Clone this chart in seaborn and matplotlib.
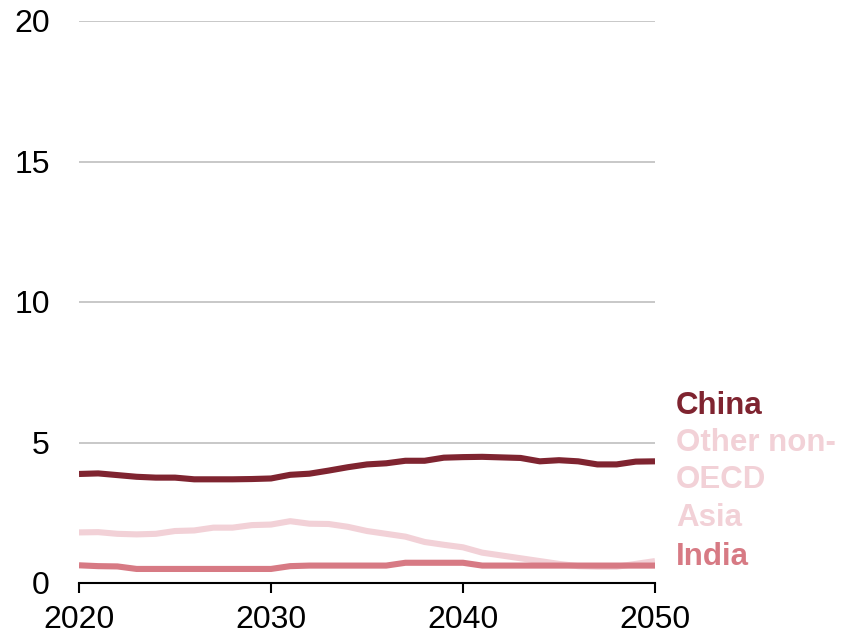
import numpy as np
import pandas as pd
import matplotlib
matplotlib.use("Agg")
import matplotlib.pyplot as plt
import seaborn as sns

# values
years = list(range(2020, 2051))
china = [3.88, 3.90, 3.84, 3.78, 3.75, 3.75, 3.69, 3.69, 3.69, 3.70, 3.72,
         3.85, 3.89, 4.00, 4.12, 4.22, 4.26, 4.35, 4.35, 4.46, 4.48,
         4.49, 4.47, 4.45, 4.33, 4.37, 4.33, 4.22, 4.22, 4.32, 4.33]
other_asia = [1.80, 1.81, 1.75, 1.73, 1.75, 1.85, 1.87, 1.97, 1.97, 2.06, 2.08,
              2.20, 2.11, 2.10, 2.00, 1.85, 1.75, 1.65, 1.46, 1.36, 1.27,
              1.08, 0.98, 0.88, 0.78, 0.68, 0.60, 0.58, 0.58, 0.68, 0.78]
india = [0.63, 0.60, 0.59, 0.50, 0.50, 0.50, 0.50, 0.50, 0.50, 0.50, 0.50,
         0.60, 0.62, 0.62, 0.62, 0.62, 0.62, 0.72, 0.72, 0.72, 0.72,
         0.62, 0.62, 0.62, 0.62, 0.62, 0.62, 0.62, 0.62, 0.62, 0.62]

series = ["Other non-OECD Asia", "India", "China"]
colors = {"China": "#7f2430", "Other non-OECD Asia": "#f2d1d7", "India": "#d77a84"}
y_ticks = [0, 5, 10, 15, 20]
x_ticks = [2020, 2030, 2040, 2050]

df = pd.concat([
    pd.DataFrame({"year": years, "value": other_asia, "region": "Other non-OECD Asia"}),
    pd.DataFrame({"year": years, "value": india, "region": "India"}),
    pd.DataFrame({"year": years, "value": china, "region": "China"}),
])

sns.set_style("white")
plt.rcParams["font.family"] = ["Liberation Sans", "DejaVu Sans"]

fig = plt.figure(figsize=(8.41, 6.35), dpi=100)
ax = fig.add_axes([79 / 841, 1 - 583 / 635, (655 - 79) / 841, (583 - 21) / 635])

for y in y_ticks[1:]:
    ax.axhline(y, color="#bfbfbf", lw=1.2, zorder=0)

sns.lineplot(data=df, x="year", y="value", hue="region", hue_order=series,
             palette=colors, lw=4.4, legend=False, ax=ax)
for line in ax.get_lines():
    line.set_solid_capstyle("butt")
    line.set_solid_joinstyle("round")

ax.set_xlim(2020, 2050)
ax.set_ylim(0, 20)
ax.set_xticks(x_ticks)
ax.set_yticks(y_ticks)
ax.set_xlabel("")
ax.set_ylabel("")
for s in ["top", "right", "left"]:
    ax.spines[s].set_visible(False)
ax.spines["bottom"].set_linewidth(1.5)
ax.spines["bottom"].set_color("black")
ax.tick_params(axis="x", direction="out", length=7, width=1.5, pad=9,
               labelsize=23, colors="black", bottom=True)
ax.tick_params(axis="y", length=0, pad=21, labelsize=23, colors="black")

# direct labels on the right
lab_x = 2051.1
ax.text(lab_x, 6.3, "China", color=colors["China"], fontsize=22.5,
        fontweight="bold", va="center", ha="left", clip_on=False)
ax.text(lab_x, 3.66, "Other non-\nOECD\nAsia", color=colors["Other non-OECD Asia"],
        fontsize=22.5, fontweight="bold", va="center", ha="left",
        linespacing=1.32, clip_on=False)
ax.text(lab_x, 0.92, "India", color=colors["India"], fontsize=22.5,
        fontweight="bold", va="center", ha="left", clip_on=False)

fig.savefig("out.png", dpi=100)
